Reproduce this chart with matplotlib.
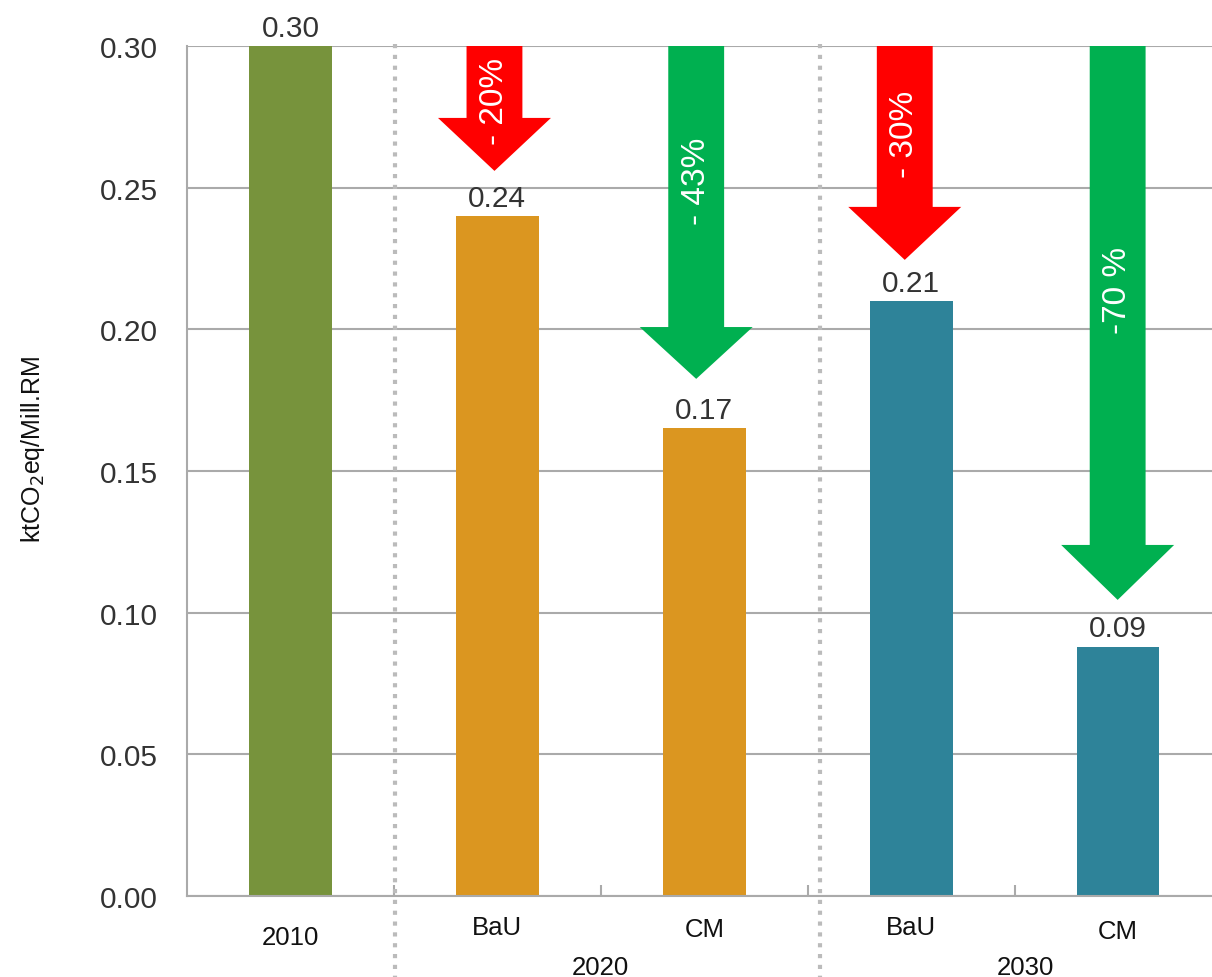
import numpy as np
import matplotlib.pyplot as plt
import matplotlib.transforms as mtransforms
from matplotlib.patches import Polygon

plt.rcParams['font.family'] = ['Liberation Sans', 'DejaVu Sans']

# --- datos ---
etiquetas = ['2010', 'BaU', 'CM', 'BaU', 'CM']
valores = [0.30, 0.24, 0.165, 0.21, 0.088]
textos_valor = ['0.30', '0.24', '0.17', '0.21', '0.09']
colores = ['#77933C', '#DB9620', '#DB9620', '#2E8399', '#2E8399']
grupos = ['2020', '2030']
grupo_pos = [1.5, 3.55]

# flechas: x, punta, base de la punta, texto, color, y del texto
flecha_x = [0.986, 1.961, 2.969, 3.998]
flecha_punta = [0.2559, 0.1825, 0.2245, 0.1045]
flecha_base = [0.2746, 0.2008, 0.2432, 0.1239]
flecha_txt = ['- 20%', '- 43%', '- 30%', '-70 %']
flecha_col = ['#FF0000', '#00B050', '#FF0000', '#00B050']
flecha_ty = [0.2806, 0.2525, 0.2690, 0.2142]

fig = plt.figure(figsize=(12.12, 9.78), dpi=100)
ax = fig.add_axes([0.1543, 0.0828, 0.8457, 0.8692])

x = np.arange(len(valores))
ax.bar(x, valores, width=0.4, color=colores, zorder=2)

for xi, v, t in zip(x, valores, textos_valor):
    ax.annotate(t, (xi, v), xytext=(0, 3), textcoords='offset points',
                ha='center', va='bottom', fontsize=21.5, color='#333333')

# flechas
sw, hw = 0.135, 0.273
for fx, fp, fb, ft, fc, ty in zip(flecha_x, flecha_punta, flecha_base,
                                  flecha_txt, flecha_col, flecha_ty):
    pts = [(fx - sw, 0.3005), (fx + sw, 0.3005), (fx + sw, fb), (fx + hw, fb),
           (fx, fp), (fx - hw, fb), (fx - sw, fb)]
    ax.add_patch(Polygon(pts, closed=True, facecolor=fc, edgecolor='none', zorder=3))
    ax.text(fx, ty, ft, rotation=90, ha='center', va='center',
            fontsize=24, color='white', zorder=4)

ax.set_xlim(-0.5, 4.454)
ax.set_ylim(0, 0.30)
ax.set_yticks(np.arange(0, 0.31, 0.05))
ax.set_yticklabels(['%.2f' % v for v in np.arange(0, 0.31, 0.05)])
ax.yaxis.grid(True, color='#AAAAAA', linewidth=1.5, zorder=0)
ax.set_axisbelow(True)
ax.tick_params(axis='y', length=0, pad=21, labelsize=21.5, labelcolor='#333333')

# ticks entre barras
ax.set_xticks([])
ax.set_xticks(x[:-1] + 0.5, minor=True)
ax.tick_params(axis='x', which='minor', direction='in', length=8, width=1.5,
               color='#AAAAAA')

for lado in ['top', 'right']:
    ax.spines[lado].set_visible(False)
for lado in ['left', 'bottom']:
    ax.spines[lado].set_color('#AAAAAA')
    ax.spines[lado].set_linewidth(1.5)

trans = mtransforms.blended_transform_factory(ax.transData, ax.transAxes)
etiqueta_y = [-0.0482, -0.0365, -0.0388, -0.0365, -0.041]
for xi, e, ey in zip(x, etiquetas, etiqueta_y):
    ax.text(xi, ey, e, transform=trans, ha='center', va='center', fontsize=18.5,
            color='#111111')
for gp, g in zip(grupo_pos, grupos):
    ax.text(gp, -0.083, g, transform=trans, ha='center', va='center',
            fontsize=18.5, color='#111111')

# separadores punteados
for sx in [0.507, 2.56]:
    ax.plot([sx, sx], [1.002, -0.1], transform=trans, color='#BBBBBB',
            linewidth=3, linestyle=(0, (1, 1.6)), dash_capstyle='butt',
            clip_on=False, zorder=1)

fig.text(0.027, 0.54, 'ktCO$_{2}$eq/Mill.RM', rotation=90, ha='center',
         va='center', fontsize=18, color='#111111')

fig.savefig('out.png', dpi=100)
